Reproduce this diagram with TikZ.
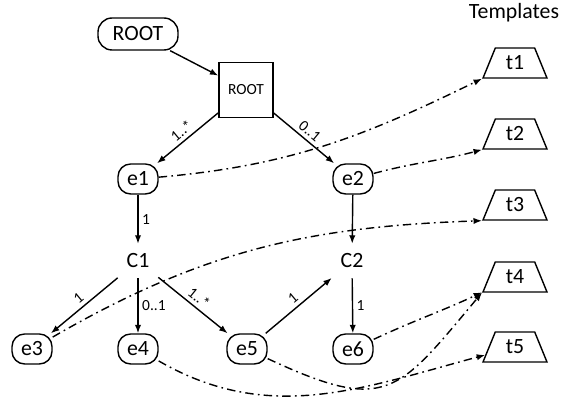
\documentclass[tikz,border=0pt]{standalone}
\usepackage{fontspec}
\setmainfont{Carlito}
\usepackage{tikz}
\usetikzlibrary{arrows.meta}
\usetikzlibrary{shapes,positioning}
\tikzset{>={Latex[length=6pt,width=4.5pt]},
  big/.style={font=\fontsize{15.5}{18}\selectfont},
  small/.style={font=\fontsize{11}{13}\selectfont},
  elem/.style={draw,big,line width=1pt,rounded corners=9pt,
    minimum width=1cm,minimum height=0.75cm,inner sep=0pt},
  cls/.style={big,minimum width=1cm,minimum height=0.85cm,inner sep=0pt},
  tmpl/.style={draw,big,trapezium,line width=1pt,trapezium left angle=68,
    trapezium right angle=68,trapezium stretches=true,
    minimum width=1.6cm,minimum height=0.75cm,inner sep=0pt},
  link/.style={->,line width=1pt},
  tlink/.style={->,line width=1pt,dash pattern=on 6pt off 3pt on 1.2pt off 3pt},
  lbl/.style={small,inner sep=2.5pt}}

\begin{document}
\begin{tikzpicture}

  \useasboundingbox (0,0) rectangle (14.075,10.025);

  \node [elem,minimum width=2cm,minimum height=0.8cm,rounded corners=10pt] (root) at (3.45,9.175) {ROOT};
  \node [draw,line width=1pt,minimum width=1.35cm,minimum height=1.375cm,inner sep=0pt,
    font=\fontsize{11}{13}\selectfont] (rootbox) at (6.15,7.775) {ROOT};

  \node [elem] (e1) at (3.45,5.55) {e1};
  \node [elem] (e2) at (8.825,5.55) {e2};
  \node [cls] (c1) at (3.45,3.5) {C1};
  \node [cls] (c2) at (8.8,3.5) {C2};
  \node [elem] (e3) at (0.8,1.3) {e3};
  \node [elem] (e4) at (3.45,1.3) {e4};
  \node [elem] (e5) at (6.175,1.3) {e5};
  \node [elem] (e6) at (8.825,1.3) {e6};

  % templates
  \node [big] (tpl) at (12.85,9.7) {Templates};
  \node [tmpl] (t1) at (12.875,8.45) {t1};
  \node [tmpl] (t2) at (12.875,6.675) {t2};
  \node [tmpl] (t3) at (12.875,4.9) {t3};
  \node [tmpl] (t4) at (12.875,3.1) {t4};
  \node [tmpl] (t5) at (12.875,1.35) {t5};

  \draw [link] (root) -- (rootbox);
  \draw [link] (rootbox) -- node [lbl,sloped,above] {1..*} (e1);
  \draw [link] (rootbox) -- node [lbl,sloped,above] {0..1} (e2);
  \draw [link] (e1) -- node [lbl,right] {1} (c1);
  \draw [link] (e2) -- (c2);
  \draw [link] (c1) -- node [lbl,sloped,above] {1} (e3);
  \draw [link] (c1) -- node [lbl,right] {0..1} (e4);
  \draw [link] (c1) -- node [lbl,sloped,above] {1..*} (e5);
  \draw [link] (e5) -- node [lbl,sloped,above] {1} (c2);
  \draw [link] (c2) -- node [lbl,right] {1} (e6);

  \draw [tlink] (e1) to[out=5,in=206] (t1.bottom left corner);
  \draw [tlink] (e2) to[out=15,in=195] (t2.bottom left corner);
  \draw [tlink] (e3) to[out=30,in=182] (t3.bottom left corner);
  \draw [tlink] (e6) to[out=25,in=205] (t4);
  \draw [tlink] (e5) to[out=-25,in=230,looseness=1.5] (t4.bottom left corner);
  \draw [tlink] (e4) to[out=-30,in=195] (t5);

\end{tikzpicture}
\end{document}
